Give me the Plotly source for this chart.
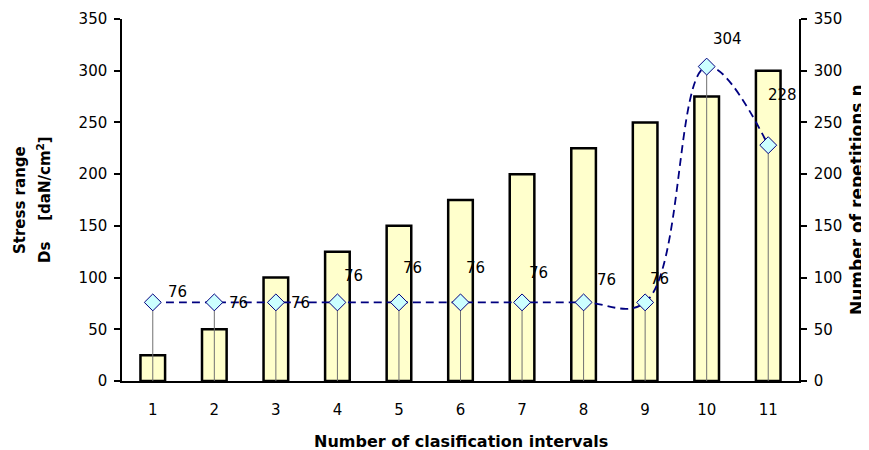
import plotly.graph_objects as go

categories = [1, 2, 3, 4, 5, 6, 7, 8, 9, 10, 11]
stress_range = [25, 50, 100, 125, 150, 175, 200, 225, 250, 275, 300]
repetitions = [76, 76, 76, 76, 76, 76, 76, 76, 76, 304, 228]
y_ticks = [0, 50, 100, 150, 200, 250, 300, 350]

# label offsets (pixels) for each data label, as placed in the reference
label_dx = [25, 24, 25, 16, 14, 15, 16, 23, 14, 21, 14]
label_dy = [10, -1, -1, 26, 34, 34, 29, 22, 23, 28, 50]

FONT = "DejaVu Sans, Liberation Sans, Arial, sans-serif"

fig = go.Figure()

fig.add_trace(go.Bar(
    x=categories, y=stress_range,
    marker=dict(color="#FFFFCC", line=dict(color="black", width=2.5)),
    yaxis="y", showlegend=False, hoverinfo="skip",
))

fig.add_trace(go.Scatter(
    x=categories, y=repetitions, yaxis="y2",
    mode="lines+markers",
    line=dict(color="#000080", width=1.8, dash="8px,5px", shape="spline", smoothing=1.1),
    marker=dict(symbol="diamond", size=13, color="#CCFFFF",
                line=dict(color="#000080", width=1)),
    error_y=dict(type="data", symmetric=False,
                 array=[0] * len(repetitions), arrayminus=repetitions,
                 width=0, thickness=1, color="#707070"),
    showlegend=False, hoverinfo="skip",
))

annotations = []
for c, v, dx, dy in zip(categories, repetitions, label_dx, label_dy):
    annotations.append(dict(
        x=c, y=v, xref="x", yref="y2", text=str(v), showarrow=False,
        xshift=dx, yshift=dy, xanchor="center", yanchor="middle",
        font=dict(family=FONT, size=15, color="black"),
    ))

def tfont(size):
    return dict(family=FONT, size=size, color="black", weight="bold")

annotations += [
    dict(text="Stress range", textangle=-90, x=0, y=0.5, xref="paper", yref="paper",
         xshift=-102, xanchor="center", yanchor="middle", showarrow=False, font=tfont(15)),
    dict(text="Ds    [daN/cm<sup>2</sup>]", textangle=-90, x=0, y=0.5, xref="paper", yref="paper",
         xshift=-78, xanchor="center", yanchor="middle", showarrow=False, font=tfont(15)),
    dict(text="Number of repetitions n", textangle=-90, x=1, y=0.5, xref="paper", yref="paper",
         xshift=58, xanchor="center", yanchor="middle", showarrow=False, font=tfont(17)),
    dict(text="Number of clasification intervals", x=0.5, y=0, xref="paper", yref="paper",
         yshift=-60, xanchor="center", yanchor="middle", showarrow=False, font=tfont(16)),
]

axis_common = dict(
    range=[0, 350], tickvals=y_ticks, showgrid=False, zeroline=False,
    showline=True, linecolor="black", linewidth=1.5,
    ticks="outside", ticklen=6, tickcolor="black", tickwidth=1.5,
    ticklabelstandoff=4, automargin=False,
    tickfont=dict(family=FONT, size=15, color="black"),
)

fig.update_layout(
    width=861, height=442,
    margin=dict(l=114, r=70, t=11, b=69, autoexpand=False),
    paper_bgcolor="white", plot_bgcolor="white",
    bargap=0.6,
    xaxis=dict(
        tickvals=categories, range=[0.5, 11.5], showgrid=False, zeroline=False,
        showline=True, linecolor="black", linewidth=1.5, ticks="",
        ticklabelstandoff=14, automargin=False,
        tickfont=dict(family=FONT, size=15, color="black"),
    ),
    yaxis=dict(side="left", **axis_common),
    yaxis2=dict(side="right", overlaying="y", anchor="x", **axis_common),
    annotations=annotations,
)

fig.write_html("out.html")
